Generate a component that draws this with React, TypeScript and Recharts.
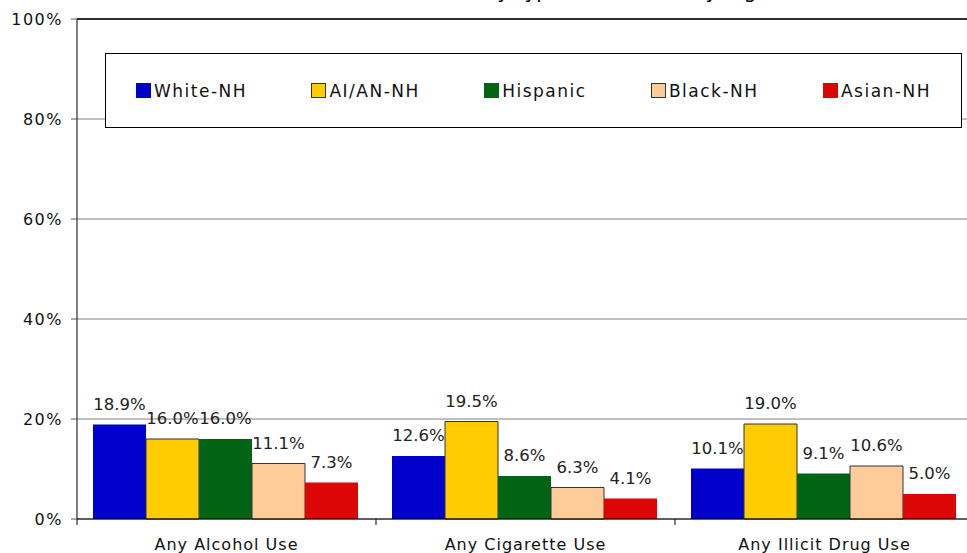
import React from 'react';
import { BarChart, Bar, XAxis, YAxis, CartesianGrid, LabelList, ReferenceLine } from 'recharts';

const categories = ['Any Alcohol Use', 'Any Cigarette Use', 'Any Illicit Drug Use'];
const whiteNH = [18.9, 12.6, 10.1];
const aianNH = [16.0, 19.5, 19.0];
const hispanic = [16.0, 8.6, 9.1];
const blackNH = [11.1, 6.3, 10.6];
const asianNH = [7.3, 4.1, 5.0];
const yTicks = [0, 20, 40, 60, 80, 100];

const FONT = '"DejaVu Sans", Verdana, sans-serif';

const series = [
    { key: 'white', name: 'White-NH', color: '#0000CC', stroke: 'none' },
    { key: 'aian', name: 'AI/AN-NH', color: '#FFCC00', stroke: '#333333' },
    { key: 'hispanic', name: 'Hispanic', color: '#006414', stroke: 'none' },
    { key: 'black', name: 'Black-NH', color: '#FFCC99', stroke: '#333333' },
    { key: 'asian', name: 'Asian-NH', color: '#DD0606', stroke: 'none' },
];

const data = categories.map((category, i) => ({
    category,
    white: whiteNH[i],
    aian: aianNH[i],
    hispanic: hispanic[i],
    black: blackNH[i],
    asian: asianNH[i],
}));

// category label centred, tick mark on the band boundary
const CategoryTick = (props: any) => {
    const { x, y, payload } = props;
    const half = payload?.offset ?? 0;
    return (
        <g>
            <line x1={x - half} x2={x - half} y1={y} y2={y + 6} stroke="#000" />
            <text x={x} y={y + 31} textAnchor="middle" fontFamily={FONT} fontSize={16} letterSpacing={1} fill="#111">
                {payload.value}
            </text>
        </g>
    );
};

export default function App() {
    return (
        <div style={{ position: 'fixed', left: 0, top: 0, width: 967, height: 553, overflow: 'hidden', background: '#fff' }}>
            {/* title, mostly cropped off the top */}
            <div
                style={{
                    position: 'absolute',
                    left: 0,
                    width: 1120,
                    top: -21,
                    textAlign: 'center',
                    fontFamily: FONT,
                    fontSize: 20,
                    whiteSpace: 'nowrap',
                    color: '#000',
                }}
            >
                Past Month Substance Use by Type, Race/Ethnicity, Ages 12-17, 2005
            </div>

            <div style={{ position: 'absolute', left: 0, top: 0 }}>
                <BarChart
                    width={1000}
                    height={600}
                    data={data}
                    margin={{ top: 19, right: 26, left: 0, bottom: 41 }}
                    barCategoryGap={16}
                    barGap={0}
                >
                    <CartesianGrid vertical={false} stroke="#808080" />
                    <XAxis
                        dataKey="category"
                        height={40}
                        tickSize={0}
                        tickMargin={0}
                        tickLine={false}
                        axisLine={{ stroke: '#000' }}
                        tick={<CategoryTick />}
                        interval={0}
                    />
                    <YAxis
                        width={77}
                        domain={[0, 100]}
                        ticks={yTicks}
                        tickFormatter={(v) => `${v}%`}
                        tickSize={6}
                        tickMargin={8}
                        tickLine={{ stroke: '#555' }}
                        axisLine={{ stroke: '#000' }}
                        tick={{ fontSize: 16, fill: '#111', fontFamily: FONT, letterSpacing: 1.5 }}
                    />
                    <ReferenceLine y={100} stroke="#000" strokeWidth={1.5} />
                    {series.map((s) => (
                        <Bar
                            key={s.key}
                            dataKey={s.key}
                            name={s.name}
                            fill={s.color}
                            stroke={s.stroke}
                            strokeWidth={1}
                            isAnimationActive={false}
                        >
                            <LabelList
                                dataKey={s.key}
                                position="top"
                                offset={15}
                                formatter={(v: any) => `${Number(v).toFixed(1)}%`}
                                style={{ fontSize: 16.5, fill: '#222', fontFamily: FONT }}
                            />
                        </Bar>
                    ))}
                </BarChart>
            </div>

            {/* legend box */}
            <div
                style={{
                    position: 'absolute',
                    left: 105,
                    top: 53,
                    width: 857,
                    height: 75,
                    border: '1px solid #000',
                    background: '#fff',
                    display: 'flex',
                    alignItems: 'center',
                    justifyContent: 'space-between',
                    paddingLeft: 30,
                    paddingRight: 30,
                    boxSizing: 'border-box',
                    fontFamily: FONT,
                    fontSize: 17,
                    letterSpacing: 1.5,
                    color: '#111',
                }}
            >
                {series.map((s) => (
                    <div key={s.key} style={{ display: 'flex', alignItems: 'center' }}>
                        <span
                            style={{
                                display: 'inline-block',
                                width: 15,
                                height: 15,
                                background: s.color,
                                boxSizing: 'border-box',
                                border: s.stroke === 'none' ? 'none' : `1px solid ${s.stroke}`,
                                marginRight: 3,
                            }}
                        />
                        <span>{s.name}</span>
                    </div>
                ))}
            </div>
        </div>
    );
}
